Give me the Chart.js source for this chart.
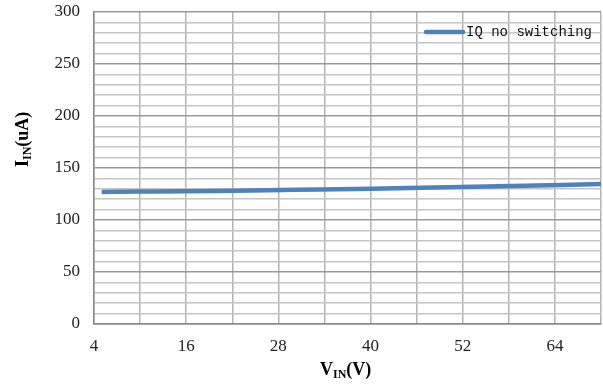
<!DOCTYPE html>
<html>
<head>
<meta charset="utf-8">
<script src="https://cdn.jsdelivr.net/npm/chart.js@4"></script>
<style>
  html, body { margin: 0; padding: 0; background: #fff; }
  #wrap { width: 603px; height: 385px; }
</style>
</head>
<body>
<div id="wrap"><canvas id="chart" width="603" height="385"></canvas></div>
<script>
// DATA
const vin = [5, 10, 20, 30, 40, 50, 60, 70];
const iqNoSwitching = [127, 127.3, 128, 129, 130, 131.5, 133, 134.5];
const xTicks = [4, 10, 16, 22, 28, 34, 40, 46, 52, 58, 64, 70];
const xLabelTicks = [4, 16, 28, 40, 52, 64];
const yLabelTicks = [0, 50, 100, 150, 200, 250, 300];
const seriesLabel = 'IQ no switching';

const LINE_COLOR = '#4F81BD';

// axis titles + legend, drawn on top
const titlesPlugin = {
  id: 'titles',
  afterDraw(chart) {
    const ctx = chart.ctx;
    ctx.save();
    ctx.fillStyle = '#000';
    ctx.textBaseline = 'alphabetic';

    // x title: V_IN(V)
    ctx.font = 'bold 18px "Liberation Serif"';
    let x = 320, y = 375;
    ctx.fillText('V', x, y);
    x += ctx.measureText('V').width;
    ctx.font = 'bold 12px "Liberation Serif"';
    ctx.fillText('IN', x, y + 3);
    x += ctx.measureText('IN').width;
    ctx.font = 'bold 18px "Liberation Serif"';
    ctx.fillText('(V)', x, y);

    // y title: I_IN(uA), rotated
    ctx.translate(28, 167);
    ctx.rotate(-Math.PI / 2);
    x = 0; y = 0;
    ctx.font = 'bold 18px "Liberation Serif"';
    ctx.fillText('I', x, y);
    x += ctx.measureText('I').width;
    ctx.font = 'bold 12px "Liberation Serif"';
    ctx.fillText('IN', x, y + 3);
    x += ctx.measureText('IN').width;
    ctx.font = 'bold 18px "Liberation Serif"';
    ctx.fillText('(uA)', x, y);
    ctx.restore();

    // legend
    ctx.save();
    ctx.strokeStyle = LINE_COLOR;
    ctx.lineWidth = 4.5;
    ctx.lineCap = 'round';
    ctx.beginPath();
    ctx.moveTo(426, 32);
    ctx.lineTo(463, 32);
    ctx.stroke();
    ctx.fillStyle = '#111';
    ctx.font = '14px "Liberation Mono"';
    ctx.textBaseline = 'middle';
    ctx.fillText(seriesLabel, 466, 32);
    ctx.restore();
  }
};

new Chart(document.getElementById('chart'), {
  type: 'line',
  data: {
    datasets: [{
      label: seriesLabel,
      data: vin.map((v, i) => ({ x: v, y: iqNoSwitching[i] })),
      borderColor: LINE_COLOR,
      borderWidth: 4.5,
      pointRadius: 0,
      tension: 0.4,
      cubicInterpolationMode: 'monotone',
      fill: false
    }]
  },
  options: {
    responsive: false,
    animation: false,
    layout: { padding: { top: 12, right: 2, left: 0, bottom: 0 } },
    plugins: { legend: { display: false }, tooltip: { enabled: false } },
    scales: {
      x: {
        type: 'linear',
        min: 4,
        max: 70,
        afterBuildTicks: s => { s.ticks = xTicks.map(v => ({ value: v })); },
        afterFit: s => { s.height = 61; s.paddingLeft = 0; s.paddingRight = 0; },
        ticks: {
          autoSkip: false,
          maxRotation: 0,
          padding: 12,
          color: '#222',
          font: { family: '"Liberation Serif"', size: 17 },
          callback: v => xLabelTicks.includes(v) ? String(v) : ''
        },
        grid: { color: '#b4b4b4', lineWidth: 1.5, drawTicks: false },
        border: { color: '#888', width: 1.5 }
      },
      y: {
        min: 0,
        max: 300,
        afterFit: s => { s.width = 94; s.paddingTop = 0; s.paddingBottom = 0; },
        ticks: {
          stepSize: 10,
          autoSkip: false,
          padding: 14,
          color: '#222',
          font: { family: '"Liberation Serif"', size: 17 },
          callback: v => yLabelTicks.includes(v) ? String(v) : ''
        },
        grid: {
          drawTicks: false,
          lineWidth: 1.5,
          color: c => yLabelTicks.includes(c.tick.value) ? '#999' : '#c4c4c4'
        },
        border: { color: '#888', width: 1.5 }
      }
    }
  },
  plugins: [titlesPlugin]
});
</script>
</body>
</html>
